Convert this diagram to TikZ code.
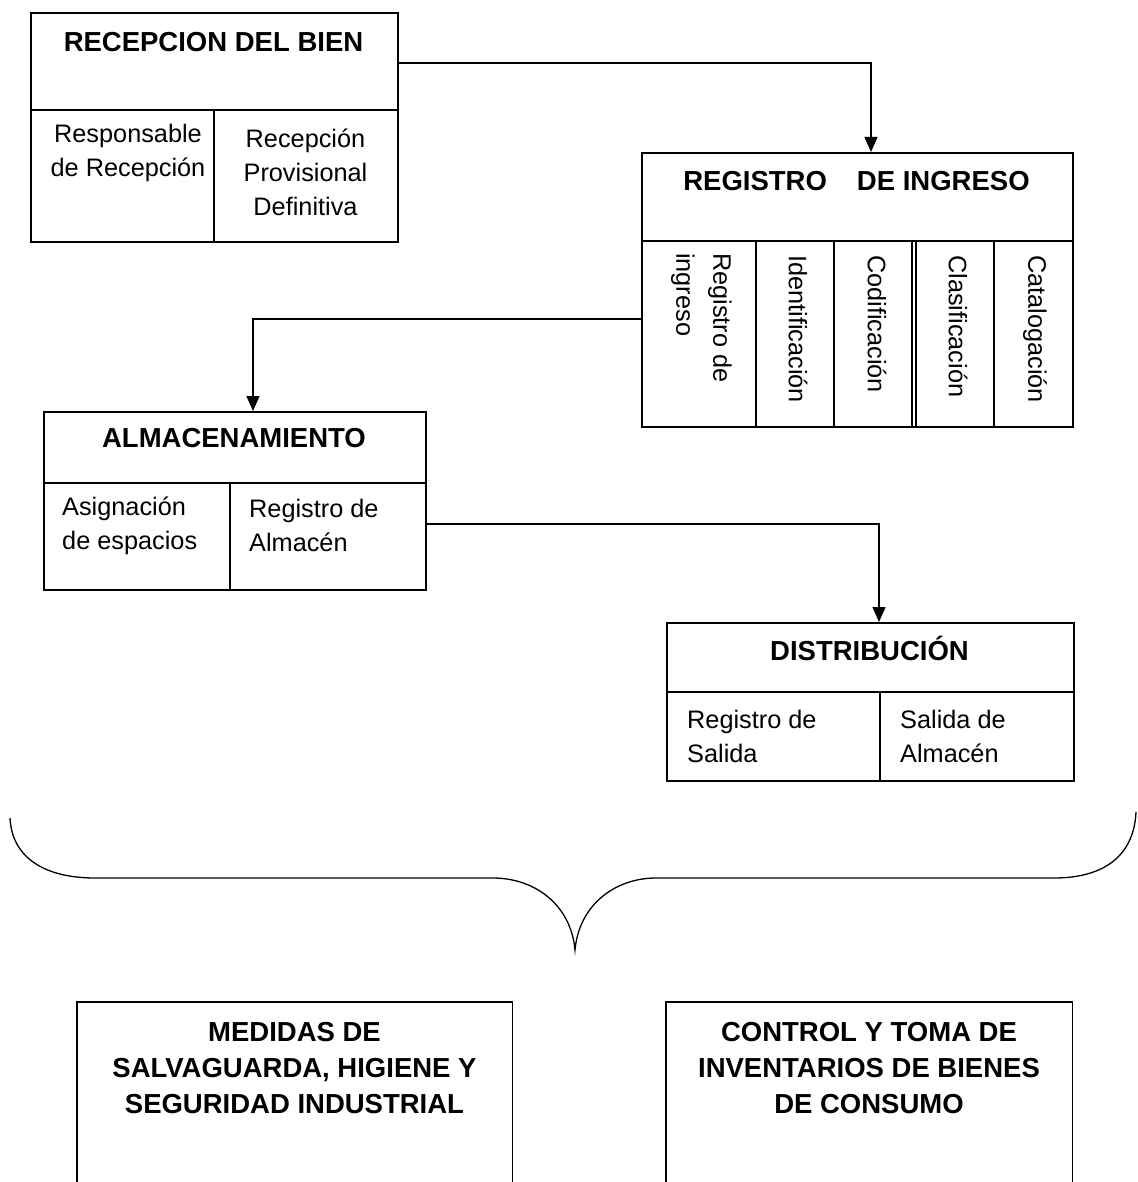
\documentclass[tikz,border=0pt]{standalone}
\usepackage{fontspec}
\setmainfont{Liberation Sans}
\usetikzlibrary{arrows.meta,calc}
\begin{document}
\begin{tikzpicture}[x=1pt,y=-1pt,
  frame/.style={draw, line width=1.8pt, inner sep=0pt, anchor=north west},
  open/.style={inner sep=0pt, anchor=north west},
  rule/.style={line width=1.8pt},
  ttl/.style={font=\bfseries\fontsize{27.5}{36}\selectfont, inner sep=0pt},
  txt/.style={font=\fontsize{25.3}{34}\selectfont, inner sep=0pt},
  vtxt/.style={txt, rotate=-90, anchor=west},
  arr/.style={line width=1.5pt, -{Triangle[length=15pt,width=13pt]}},
  brace/.style={line width=1.3pt}]
\useasboundingbox (0,0) rectangle (1137,1182);

% --- Recepcion del bien ---
\node[frame, minimum width=367pt, minimum height=229pt] (rec) at (30,12) {};
\draw[rule] (30,110) -- (397,110);
\draw[rule] (214,110) -- (214,241);
\node[ttl] (recT) at (213.5,42) {RECEPCION DEL BIEN};
\node[txt, align=center] (recA) at (128,153) {Responsable\\de Recepción};
\node[txt, align=center] (recB) at (305.5,172) {Recepción\\Provisional\\Definitiva};

% --- Registro de ingreso ---
\node[frame, minimum width=431pt, minimum height=274pt] (reg) at (641,152) {};
\draw[rule] (641,241) -- (1072,241);
\foreach \x in {756,834,912,916,994} \draw[rule] (\x,241) -- (\x,426);
\node[ttl] (regT) at (856.5,181) {REGISTRO\hspace{30pt}DE INGRESO};
\node[vtxt, align=left, font=\fontsize{25.3}{37}\selectfont] (regA) at (701.5,253) {Registro de\\ingreso};
\node[vtxt] (regB) at (798,255) {Identificación};
\node[vtxt] (regC) at (877,255) {Codificación};
\node[vtxt] (regD) at (958,255) {Clasificación};
\node[vtxt] (regE) at (1035,255) {Catalogación};

% --- Almacenamiento ---
\node[frame, minimum width=382pt, minimum height=178pt] (alm) at (43,411) {};
\draw[rule] (43,483) -- (425,483);
\draw[rule] (230,483) -- (230,589);
\node[ttl] (almT) at (234,438) {ALMACENAMIENTO};
\node[txt, align=left, anchor=west] (almA) at (62,525.5) {Asignación\\de espacios};
\node[txt, align=left, anchor=west] (almB) at (249,525.5) {Registro de\\Almacén};

% --- Distribucion ---
\node[frame, minimum width=407pt, minimum height=158pt] (dist) at (666,622) {};
\draw[rule] (666,692) -- (1073,692);
\draw[rule] (880,692) -- (880,780);
\node[ttl] (distT) at (869.5,648) {DISTRIBUCIÓN};
\node[txt, align=left, anchor=west] (distA) at (687,736.5) {Registro de\\Salida};
\node[txt, align=left, anchor=west] (distB) at (900,736.5) {Salida de\\Almacén};

% --- flow connectors ---
\draw[arr] ($(rec.north east)+(0,51)$) -| ($(reg.north west)+(230,0)$);
\draw[arr] ($(reg.north west)+(0,167)$) -| ($(alm.north west)+(210,0)$);
\draw[arr] ($(alm.north east)+(0,113)$) -| ($(dist.north west)+(213,0)$);

% --- grouping brace ---
\coordinate (tip) at (575,950);
\draw[brace] (10,818) .. controls (12,858) and (45,878) .. (95,878) -- (493,878)
  .. controls (535,878) and (571,905) .. (tip)
  .. controls (579,905) and (615,878) .. (656,878) -- (1054,878)
  .. controls (1105,878) and (1134,855) .. (1136,812);

% --- lower boxes (open at the foot) ---
\node[open, minimum width=435pt, minimum height=180pt] (med) at (77,1002) {};
\draw[rule] (med.south west) |- (med.north east) -- (med.south east);
\node[ttl, align=center] (medT) at (294.5,1068) {MEDIDAS DE\\SALVAGUARDA, HIGIENE Y\\SEGURIDAD INDUSTRIAL};

\node[open, minimum width=406pt, minimum height=180pt] (inv) at (666,1002) {};
\draw[rule] (inv.south west) |- (inv.north east) -- (inv.south east);
\node[ttl, align=center] (invT) at (869,1068) {CONTROL Y TOMA DE\\INVENTARIOS DE BIENES\\DE CONSUMO};
\end{tikzpicture}
\end{document}
